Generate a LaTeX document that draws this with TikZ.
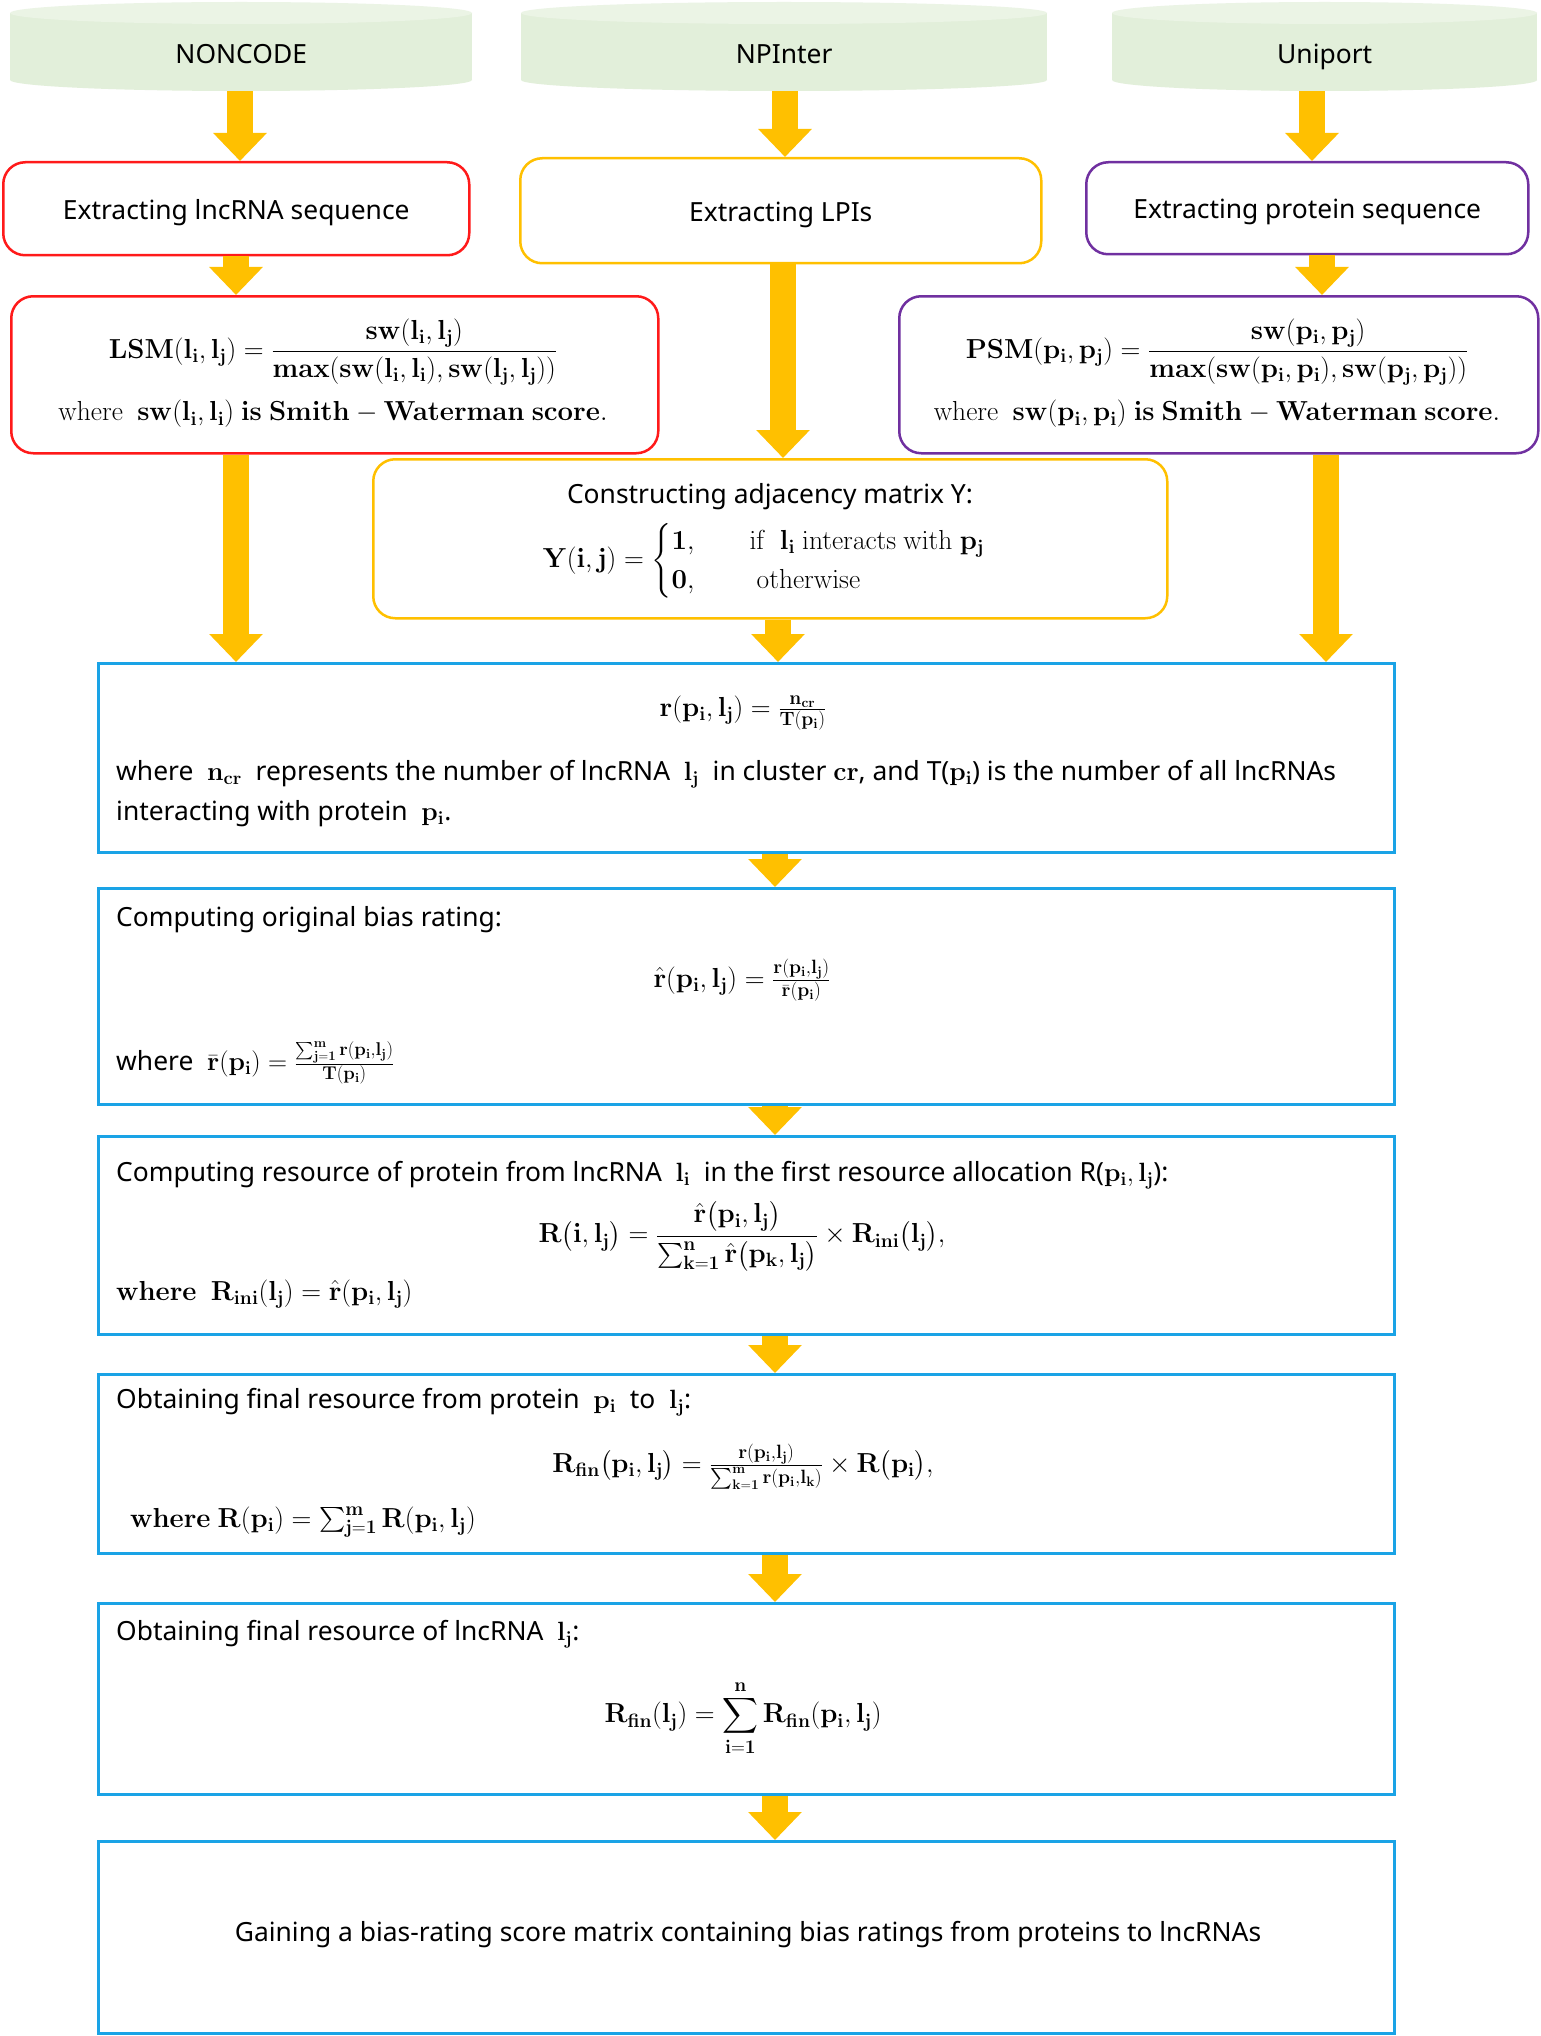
\RequirePackage{fix-cm}
\documentclass[tikz,border=0pt]{standalone}
\usepackage[no-math]{fontspec}
\setmainfont{Noto Sans}
\usepackage{amsmath}
\usetikzlibrary{arrows.meta,calc}
\definecolor{arrowc}{HTML}{FFC000}
\definecolor{redc}{HTML}{FF1A1A}
\definecolor{orc}{HTML}{FFC000}
\definecolor{purc}{HTML}{7030A0}
\definecolor{bluec}{HTML}{1AA3E6}
\definecolor{cylbody}{HTML}{E2EFDA}
\definecolor{cyltop}{HTML}{EBF4E5}
\begin{document}
\begin{tikzpicture}[x=1pt,y=-1pt,
  bigarrow/.style={draw=arrowc, line width=26pt, -{Triangle[length=28pt,width=52pt]}},
  rbox/.style={draw, line width=2.5pt, rounded corners=22pt, fill=white, anchor=north west, inner sep=0pt, font=\fontsize{26.4}{32}\selectfont, text height=27pt, text depth=6.3pt},
  bbox/.style={draw=bluec, line width=3pt, fill=white, anchor=north west, inner sep=0pt, minimum width=1296pt},
  lab/.style={font=\fontsize{26.4}{32}\selectfont, inner sep=0pt},
  mlab/.style={font=\fontsize{27.5}{33}\selectfont, inner sep=0pt},
  labw/.style={lab, anchor=west},
  mlabw/.style={mlab, anchor=west},
  cyllab/.style={font=\fontsize{26.4}{32}\selectfont, inner sep=0pt, anchor=north west, text height=19pt, text depth=6.2pt}
]
\useasboundingbox (0,0) rectangle (1541,2036);
\fill[white] (0,0) rectangle (1541,2036);

% cylinders
\fill[cylbody] (10,13) rectangle (472,80);
\fill[cylbody] (241,80) ellipse [x radius=231pt, y radius=11pt];
\fill[cyltop] (241,13) ellipse [x radius=231pt, y radius=11pt];
\fill[cylbody] (521,13) rectangle (1047,80);
\fill[cylbody] (784,80) ellipse [x radius=263pt, y radius=11pt];
\fill[cyltop] (784,13) ellipse [x radius=263pt, y radius=11pt];
\fill[cylbody] (1112,13) rectangle (1537,80);
\fill[cylbody] (1324.5,80) ellipse [x radius=212.5pt, y radius=11pt];
\fill[cyltop] (1324.5,13) ellipse [x radius=212.5pt, y radius=11pt];
\node[cyllab, minimum width=462pt, minimum height=68pt] (nc) at (10,23) {NONCODE};
\node[cyllab, minimum width=526pt, minimum height=68pt] (np) at (521,23) {NPInter};
\node[cyllab, minimum width=425pt, minimum height=68pt] (up) at (1112,23) {Uniport};

% first row boxes
\node[rbox, draw=redc, minimum width=466pt, minimum height=93pt] (lnc) at (2,161) {Extracting lncRNA sequence};
\node[rbox, draw=orc, minimum width=521pt, minimum height=105pt] (lpi) at (519,157) {Extracting LPIs};
\node[rbox, draw=purc, minimum width=442pt, minimum height=92pt] (prot) at (1085,161) {Extracting protein sequence};

% second row
\node[rbox, draw=redc, minimum width=647pt, minimum height=157pt] (lsm) at (10,295) {};
\node[rbox, draw=purc, minimum width=639pt, minimum height=157pt] (psm) at (898,295) {};
\node[rbox, draw=orc, minimum width=794pt, minimum height=159pt] (adj) at (372,458) {};

\node[mlab] (lsmf) at (333,352) {$\mathbf{LSM(l_i,l_j)}=\displaystyle\frac{\mathbf{sw(l_i,l_j)}}{\mathbf{max(sw(l_i,l_i),sw(l_j,l_j))}}$};
\node[mlab] (lsmw) at (333,414) {$\mathrm{where}\ \ \mathbf{sw(l_i,l_i)\ is\ Smith}-\mathbf{Waterman\ score.}$};
\node[mlab] (psmf) at (1217,352) {$\mathbf{PSM(p_i,p_j)}=\displaystyle\frac{\mathbf{sw(p_i,p_j)}}{\mathbf{max(sw(p_i,p_i),sw(p_j,p_j))}}$};
\node[mlab] (psmw) at (1217,414) {$\mathrm{where}\ \ \mathbf{sw(p_i,p_i)\ is\ Smith}-\mathbf{Waterman\ score.}$};

\node[lab] (adjt) at (770,497) {Constructing adjacency matrix Y:};
\node[mlab] (adjf) at (764,561) {$\mathbf{Y(i,j)}=\begin{cases}\mathbf{1}, & \quad\mathrm{if}\ \ \mathbf{l_i}\ \mathrm{interacts\ with}\ \mathbf{p_j}\\ \mathbf{0}, & \quad\ \mathrm{otherwise}\end{cases}$};

% blue boxes
\node[bbox, minimum height=189pt] (b1) at (97,662) {};
\node[bbox, minimum height=216pt] (b2) at (97,887) {};
\node[bbox, minimum height=198pt] (b3) at (97,1135) {};
\node[bbox, minimum height=179pt] (b4) at (97,1373) {};
\node[bbox, minimum height=191pt] (b5) at (97,1602) {};
\node[bbox, minimum height=192pt] (b6) at (97,1840) {};

\node[mlab] (b1f) at (743,713) {$\mathbf{r(p_i,l_j)}=\frac{\mathbf{n_{cr}}}{\mathbf{T(p_i)}}$};
\node[labw] (b1a) at (116,774) {where\ \ $\mathbf{n_{cr}}$\ \ represents the number of lncRNA\ \ $\mathbf{l_j}$\ \ in cluster $\mathbf{cr}$, and T($\mathbf{p_i}$) is the number of all lncRNAs};
\node[labw] (b1b) at (116,814) {interacting with protein\ \ $\mathbf{p_i}$.};

\node[labw] (b2a) at (116,920) {Computing original bias rating:};
\node[mlab] (b2f) at (742,980) {$\hat{\mathbf{r}}\mathbf{(p_i,l_j)}=\frac{\mathbf{r(p_i,l_j)}}{\bar{\mathbf{r}}\mathbf{(p_i)}}$};
\node[labw] (b2b) at (116,1063) {where\ \ $\bar{\mathbf{r}}\mathbf{(p_i)}=\frac{\sum_{\mathbf{j=1}}^{\mathbf{m}}\mathbf{r(p_i,l_j)}}{\mathbf{T(p_i)}}$};

\node[labw] (b3a) at (116,1175) {Computing resource of protein from lncRNA\ \ $\mathbf{l_i}$\ \ in the first resource allocation R($\mathbf{p_i,l_j}$):};
\node[mlab] (b3f) at (742,1236) {$\mathbf{R}\bigl(\mathbf{i,l_j}\bigr)=\displaystyle\frac{\hat{\mathbf{r}}\bigl(\mathbf{p_i,l_j}\bigr)}{\sum_{\mathbf{k=1}}^{\mathbf{n}}\hat{\mathbf{r}}\bigl(\mathbf{p_k,l_j}\bigr)}\times\mathbf{R_{ini}}\bigl(\mathbf{l_j}\bigr)\mathbf{,}$};
\node[mlabw] (b3b) at (116,1294) {$\mathbf{where\ \ R_{ini}(l_j)}=\hat{\mathbf{r}}\mathbf{(p_i,l_j)}$};

\node[labw] (b4a) at (116,1402) {Obtaining final resource from protein\ \ $\mathbf{p_i}$\ \ to\ \ $\mathbf{l_j}$:};
\node[mlab] (b4f) at (743,1467) {$\mathbf{R_{fin}}\bigl(\mathbf{p_i,l_j}\bigr)=\frac{\mathbf{r(p_i,l_j)}}{\sum_{\mathbf{k=1}}^{\mathbf{m}}\mathbf{r(p_i,l_k)}}\times\mathbf{R}\bigl(\mathbf{p_i}\bigr)\mathbf{,}$};
\node[mlabw] (b4b) at (130,1522) {$\mathbf{where\ R(p_i)}=\sum_{\mathbf{j=1}}^{\mathbf{m}}\mathbf{R(p_i,l_j)}$};

\node[labw] (b5a) at (116,1634) {Obtaining final resource of lncRNA\ \ $\mathbf{l_j}$:};
\node[mlab] (b5f) at (743,1718) {$\displaystyle\mathbf{R_{fin}(l_j)}=\sum_{\mathbf{i=1}}^{\mathbf{n}}\mathbf{R_{fin}(p_i,l_j)}$};

\node[lab] (b6t) at (748,1935) {Gaining a bias-rating score matrix containing bias ratings from proteins to lncRNAs};

% arrows
\draw[bigarrow] (nc.south -| 240,0) -- (lnc.north -| 240,0);
\draw[bigarrow] (np.south -| 785,0) -- (lpi.north -| 785,0);
\draw[bigarrow] (up.south -| 1312,0) -- (prot.north -| 1312,0);
\draw[bigarrow] (lnc.south -| 236,0) -- (lsm.north -| 236,0);
\draw[bigarrow] (prot.south -| 1322,0) -- (psm.north -| 1322,0);
\draw[bigarrow] (lpi.south -| 783,0) -- (adj.north -| 783,0);
\draw[bigarrow] (lsm.south -| 236,0) -- (b1.north -| 236,0);
\draw[bigarrow] (psm.south -| 1326,0) -- (b1.north -| 1326,0);
\draw[bigarrow] (adj.south -| 778,0) -- (b1.north -| 778,0);
\draw[bigarrow] (b1.south -| 775,0) -- (b2.north -| 775,0);
\draw[bigarrow] (b2.south -| 775,0) -- (b3.north -| 775,0);
\draw[bigarrow] (b3.south -| 775,0) -- (b4.north -| 775,0);
\draw[bigarrow] (b4.south -| 775,0) -- (b5.north -| 775,0);
\draw[bigarrow] (b5.south -| 775,0) -- (b6.north -| 775,0);
\end{tikzpicture}
\end{document}
